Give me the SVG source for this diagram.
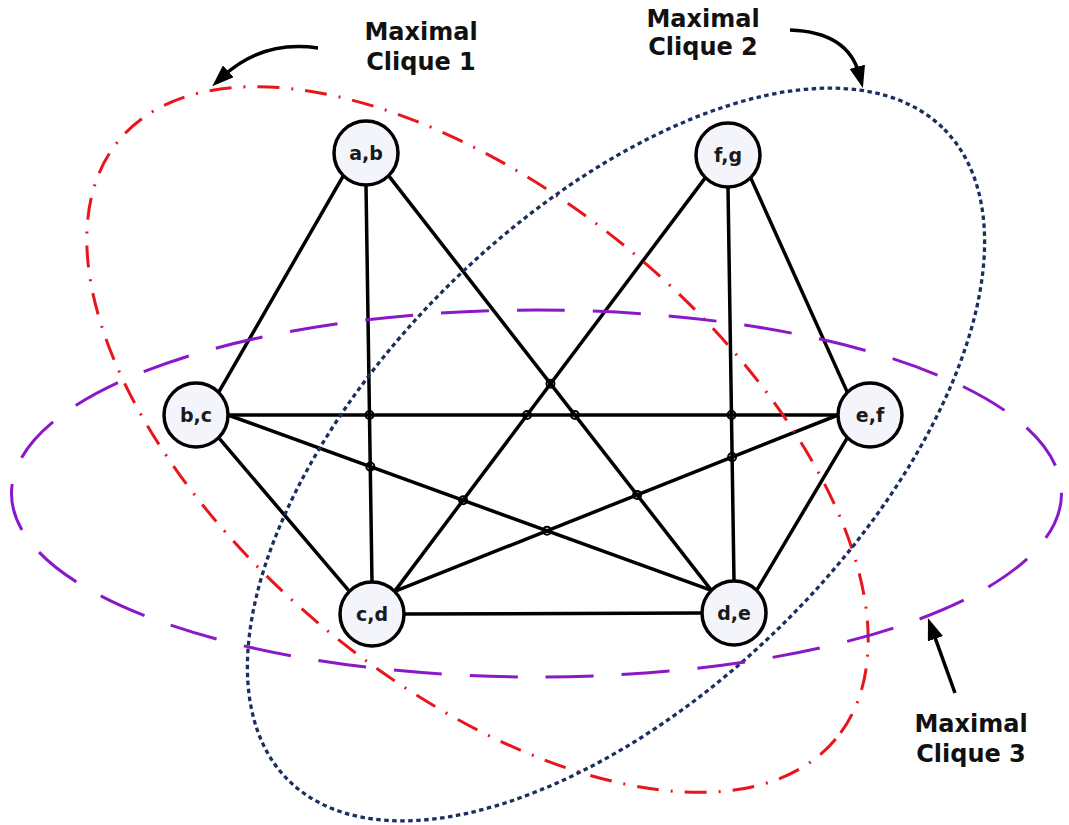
<svg xmlns="http://www.w3.org/2000/svg" width="1069" height="825" viewBox="0 0 1069 825">
  <style>
    .edge { stroke: #000; stroke-width: 3.5; fill: none; stroke-linecap: round; }
    .hop { stroke: #000; stroke-width: 2; fill: none; }
    .node circle { fill: #f3f5fb; stroke: #000; stroke-width: 3.5; }
    .node text { font-family: "DejaVu Sans", Verdana, sans-serif; font-weight: bold; font-size: 19px; fill: #1a1a1a; text-anchor: middle; }
    .label { font-family: "DejaVu Sans", Verdana, sans-serif; font-weight: bold; font-size: 24px; fill: #111; text-anchor: middle; }
    .pointer { stroke: #000; stroke-width: 3.5; fill: none; marker-end: url(#head); }
    .clique1 { stroke: #e8161b; stroke-width: 3; fill: none; stroke-dasharray: 22 12 2 12; }
    .clique2 { stroke: #1b2f5e; stroke-width: 3.3; fill: none; stroke-dasharray: 4.5 3.5; }
    .clique3 { stroke: #8b18c7; stroke-width: 3; fill: none; stroke-dasharray: 48 28; }
  </style>
  <defs>
    <marker id="head" viewBox="0 0 22 16" refX="8" refY="8" markerWidth="22" markerHeight="16" markerUnits="userSpaceOnUse" orient="auto">
      <path d="M0,0 L22,8 L0,16 Z" fill="#000"/>
    </marker>
  </defs>

  <rect width="1069" height="825" fill="#fff"/>

  <!-- graph edges, attached to connection points on the circles -->
  <g id="connectors">
    <line class="edge" x1="343.4" y1="175.6" x2="218.6" y2="392.4"/>
    <line class="edge" x1="366" y1="185" x2="372" y2="582"/>
    <line class="edge" x1="388.6" y1="175.6" x2="711.4" y2="590.4"/>
    <line class="edge" x1="705.4" y1="177.6" x2="394.6" y2="591.4"/>
    <line class="edge" x1="728" y1="187" x2="734" y2="581"/>
    <line class="edge" x1="750.6" y1="177.6" x2="847.4" y2="392.4"/>
    <line class="edge" x1="228" y1="415" x2="838" y2="415"/>
    <line class="edge" x1="218.6" y1="437.6" x2="349.4" y2="591.4"/>
    <line class="edge" x1="228" y1="415" x2="711.4" y2="590.4"/>
    <line class="edge" x1="838" y1="415" x2="394.6" y2="591.4"/>
    <line class="edge" x1="847.4" y1="437.6" x2="756.6" y2="590.4"/>
    <line class="edge" x1="404" y1="614" x2="702" y2="613"/>
    <!-- line-jump marks at crossings -->
    <circle class="hop" cx="369.5" cy="415" r="4"/>
    <circle class="hop" cx="370.3" cy="466.6" r="4"/>
    <circle class="hop" cx="550.5" cy="383.7" r="4"/>
    <circle class="hop" cx="574.9" cy="415" r="4"/>
    <circle class="hop" cx="527.1" cy="415" r="4"/>
    <circle class="hop" cx="637.1" cy="494.9" r="4"/>
    <circle class="hop" cx="463.1" cy="500.2" r="4"/>
    <circle class="hop" cx="731.5" cy="415" r="4"/>
    <circle class="hop" cx="732.1" cy="457.1" r="4"/>
    <circle class="hop" cx="547" cy="530.7" r="4"/>
  </g>

  <g id="node-ab" class="node"><circle cx="366" cy="153" r="32"/><text x="366" y="159.5">a,b</text></g>
  <g id="node-fg" class="node"><circle cx="728" cy="155" r="32"/><text x="728" y="161.5">f,g</text></g>
  <g id="node-bc" class="node"><circle cx="196" cy="415" r="32"/><text x="196" y="421.5">b,c</text></g>
  <g id="node-ef" class="node"><circle cx="870" cy="415" r="32"/><text x="870" y="421.5">e,f</text></g>
  <g id="node-cd" class="node"><circle cx="372" cy="614" r="32"/><text x="372" y="620.5">c,d</text></g>
  <g id="node-de" class="node"><circle cx="734" cy="613" r="32"/><text x="734" y="619.5">d,e</text></g>

  <!-- clique outlines -->
  <g id="cliques">
    <ellipse class="clique1" cx="477.5" cy="439.5" rx="467" ry="243" transform="rotate(39.9 477.5 439.5)"/>
    <ellipse class="clique2" cx="616" cy="454.5" rx="462" ry="238" transform="rotate(-44.7 616 454.5)"/>
    <ellipse class="clique3" cx="536.5" cy="493.5" rx="525" ry="183.5"/>
  </g>

  <!-- callouts -->
  <g id="callout-1">
    <text class="label" x="421" y="40">Maximal</text>
    <text class="label" x="421" y="70">Clique 1</text>
    <path class="pointer" d="M318,48 Q262,40 222.5,76.8"/>
  </g>
  <g id="callout-2">
    <text class="label" x="703" y="27">Maximal</text>
    <text class="label" x="703" y="55">Clique 2</text>
    <path class="pointer" d="M790,30 Q848,32 859.3,74.5"/>
  </g>
  <g id="callout-3">
    <text class="label" x="971" y="732">Maximal</text>
    <text class="label" x="971" y="762">Clique 3</text>
    <path class="pointer" d="M955,693 L932.7,631.2"/>
  </g>
</svg>
